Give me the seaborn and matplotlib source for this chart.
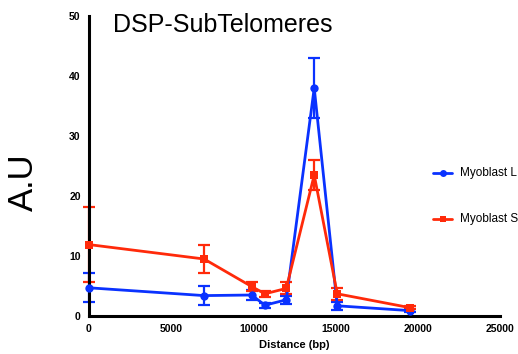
import numpy as np
import pandas as pd
import matplotlib
matplotlib.use("Agg")
import matplotlib.pyplot as plt
import seaborn as sns

# Data
distance = [0, 7000, 9900, 10700, 12000, 13700, 15100, 19500]
late_mean = [4.7, 3.4, 3.5, 1.8, 2.7, 38.0, 1.7, 0.9]
late_err = [2.4, 1.6, 0.8, 0.4, 0.7, 5.0, 0.7, 0.2]
short_mean = [11.9, 9.5, 4.9, 3.7, 4.6, 23.5, 3.7, 1.4]
short_err = [6.3, 2.4, 0.7, 0.5, 1.0, 2.5, 1.0, 0.3]
series_names = ["Myoblast L", "Myoblast S"]
colors = ["#0A32FF", "#FF2A0A"]
xticks = [0, 5000, 10000, 15000, 20000, 25000]
yticks = [0, 10, 20, 30, 40, 50]

df = pd.concat([
    pd.DataFrame({"Distance": distance, "AU": late_mean, "err": late_err, "series": series_names[0]}),
    pd.DataFrame({"Distance": distance, "AU": short_mean, "err": short_err, "series": series_names[1]}),
])

sns.set_style("white")
plt.rcParams["font.family"] = ["Liberation Sans", "DejaVu Sans"]
plt.rcParams["text.color"] = "black"
plt.rcParams["axes.labelcolor"] = "black"

fig = plt.figure(figsize=(5.18, 3.54), dpi=100)
ax = fig.add_axes([89/518, 1 - 316/354, (500 - 89)/518, 300/354])

palette = dict(zip(series_names, colors))
sns.lineplot(data=df, x="Distance", y="AU", hue="series", style="series",
             markers={series_names[0]: "o", series_names[1]: "s"}, dashes=False,
             palette=palette, linewidth=2, markersize=6, markeredgewidth=0,
             ax=ax, legend=False, zorder=3)
for name, sub in df.groupby("series"):
    ax.errorbar(sub["Distance"], sub["AU"], yerr=sub["err"], fmt="none",
                ecolor=palette[name], elinewidth=1.6, capsize=4, capthick=1.6, zorder=2)

ax.set_xlim(0, 25000)
ax.set_ylim(0, 50)
ax.set_xticks(xticks)
ax.set_yticks(yticks)
ax.set_xticklabels([str(t) for t in xticks], fontweight="bold", fontsize=7.5, color="black")
ax.set_yticklabels([str(t) for t in yticks], fontweight="bold", fontsize=7.5, color="black")
for side in ["top", "right"]:
    ax.spines[side].set_visible(False)
for side in ["left", "bottom"]:
    ax.spines[side].set_linewidth(2.2)
    ax.spines[side].set_color("black")
ax.tick_params(axis="both", direction="out", length=4, width=1.8, pad=2, colors="black")
for ln in ax.lines:
    ln.set_clip_on(False)
for c in ax.collections:
    c.set_clip_on(False)

ax.set_xlabel("Distance (bp)", fontweight="bold", fontsize=8, labelpad=4, color="black")
ax.set_ylabel("")
fig.text(23/518, 1 - 182/354, "A.U", rotation=90, fontsize=25, ha="center", va="center", color="black")
fig.text(113/518, 1 - 25/354, "DSP-SubTelomeres", fontsize=18, ha="left", va="center", color="black")

# Legend (manual, clipped at figure edge)
from matplotlib.lines import Line2D
for i, (name, mk) in enumerate(zip(series_names, ["o", "s"])):
    yfig = 1 - (173 + 46 * i) / 354
    fig.add_artist(Line2D([433/518, 452/518], [yfig, yfig], color=colors[i], lw=2,
                          marker=None, transform=fig.transFigure))
    fig.add_artist(Line2D([442.5/518], [yfig], color=colors[i], marker=mk, markersize=5,
                          markeredgewidth=0, transform=fig.transFigure))
    fig.text(460/518, yfig, name, fontsize=8.5, ha="left", va="center", color="black")

fig.savefig("out.png", dpi=100)
